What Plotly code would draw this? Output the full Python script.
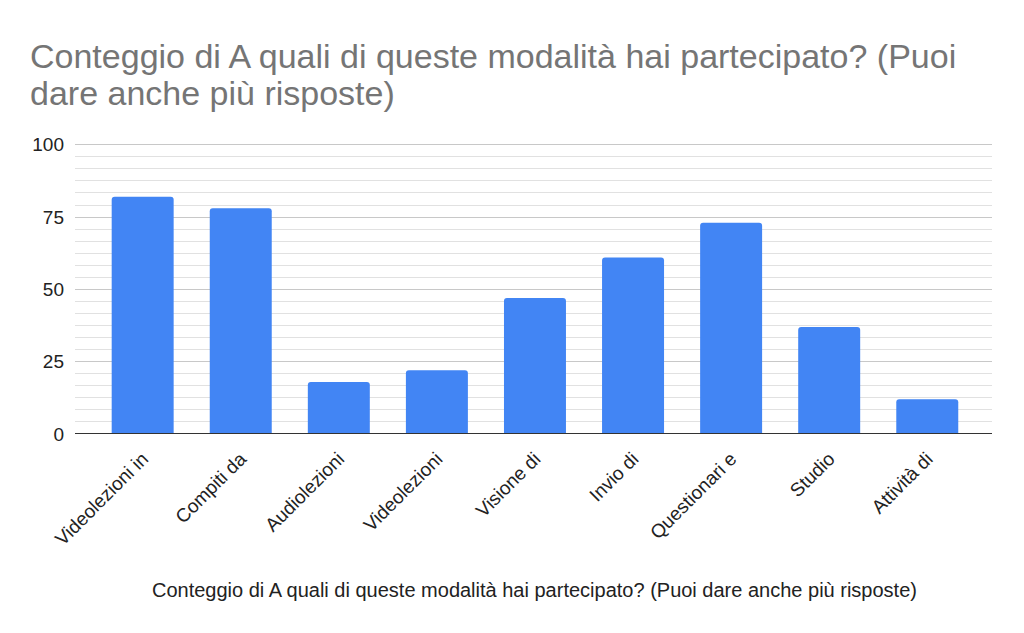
import plotly.graph_objects as go

categories = ["Videolezioni in", "Compiti da", "Audiolezioni", "Videolezioni",
              "Visione di", "Invio di", "Questionari e", "Studio", "Attività di"]
values = [82, 78, 18, 22, 47, 61, 73, 37, 12]
y_ticks = [0, 25, 50, 75, 100]

title_line1 = "Conteggio di A quali di queste modalità hai partecipato? (Puoi"
title_line2 = "dare anche più risposte)"
x_title = "Conteggio di A quali di queste modalità hai partecipato? (Puoi dare anche più risposte)"

W, H = 1024, 633
ymax = 100.6
ml, mr, mb = 75, 32, 199
y0pix = H - mb  # pixel of value 0
ppu = 2.89      # pixels per unit
mt = int(round(y0pix - ymax * ppu))
ph = H - mt - mb
pw = W - ml - mr

def py(pix):
    return (H - mb - pix) / ph

def px(pix):
    return (pix - ml) / pw

fig = go.Figure()
fig.add_trace(go.Bar(x=categories, y=values, marker=dict(color="#4285F4", line=dict(width=0)),
                     hoverinfo="x+y"))

FONT = "Liberation Sans, Arial, sans-serif"

fig.update_layout(
    width=W, height=H,
    margin=dict(l=ml, r=mr, t=mt, b=mb, pad=0),
    paper_bgcolor="white", plot_bgcolor="white",
    bargap=0.368, barcornerradius=3,
    showlegend=False,
    font=dict(family=FONT, color="#222222"),
    xaxis=dict(
        type="category", range=[-0.69, 8.66], tickangle=-45,
        tickfont=dict(size=19, color="#222222"), showgrid=False, ticks="",
        showline=False, zeroline=False, ticklabelstandoff=9,
    ),
    yaxis=dict(
        range=[0, ymax], tickvals=y_ticks, ticktext=[str(v) for v in y_ticks],
        tickfont=dict(size=19, color="#222222"), ticks="",
        showgrid=True, gridcolor="#c8c8c8", gridwidth=1,
        minor=dict(dtick=25 / 6, tick0=0, showgrid=True, gridcolor="#e1e1e1", gridwidth=1),
        zeroline=False, showline=False, ticklabelstandoff=10,
    ),
    shapes=[dict(type="line", xref="paper", yref="y", x0=0, x1=1, y0=0, y1=0,
                 line=dict(color="#333333", width=2))],
    annotations=[
        dict(text=title_line1, xref="paper", yref="paper", x=px(28), y=py(56),
             xanchor="left", yanchor="middle", showarrow=False,
             font=dict(size=34, color="#757575", family=FONT)),
        dict(text=title_line2, xref="paper", yref="paper", x=px(28), y=py(93),
             xanchor="left", yanchor="middle", showarrow=False,
             font=dict(size=34, color="#757575", family=FONT)),
        dict(text=x_title, xref="paper", yref="paper", x=px(534), y=py(590),
             xanchor="center", yanchor="middle", showarrow=False,
             font=dict(size=20, color="#222222", family=FONT)),
    ],
)

fig.write_html("out.html")
